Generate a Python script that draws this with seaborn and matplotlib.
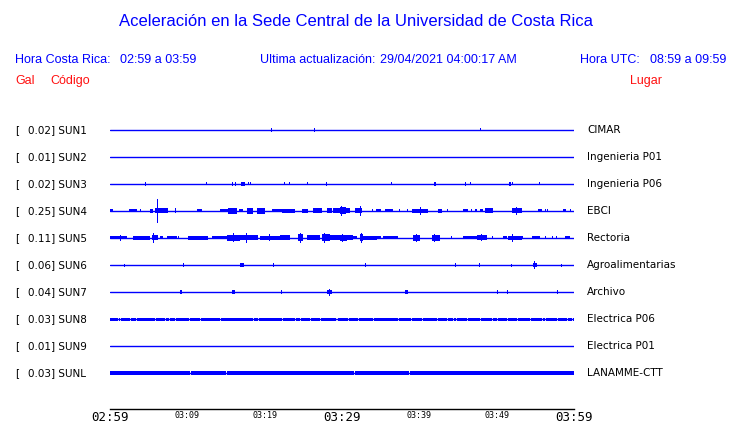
import numpy as np
import pandas as pd

import matplotlib
matplotlib.use('Agg')

import matplotlib.pyplot as plt
import seaborn as sns

# Stations
codes = ["SUN1", "SUN2", "SUN3", "SUN4", "SUN5", "SUN6", "SUN7", "SUN8", "SUN9", "SUNL"]
gals = [0.02, 0.01, 0.02, 0.25, 0.11, 0.06, 0.04, 0.03, 0.01, 0.03]
places = ["CIMAR", "Ingenieria P01", "Ingenieria P06", "EBCI", "Rectoria",
          "Agroalimentarias", "Archivo", "Electrica P06", "Electrica P01", "LANAMME-CTT"]

# Time axis (minutes after 02:59)
tick_minutes = list(range(0, 61, 5))
tick_labels = ["02:59", "", "03:09", "", "03:19", "", "03:29", "", "03:39", "", "03:49", "", "03:59"]
big_labels = ["02:59", "03:29", "03:59"]

# Trace events: (start minute, end minute, half amplitude in px)
sun1_events = [(20.9, 20.9, 2), (26.4, 26.4, 2), (47.9, 47.9, 1.5)]
sun2_events = []
sun3_events = [(4.5, 4.7, 2), (12.5, 12.5, 1.5), (15.9, 15.9, 2), (16.2, 16.2, 2), (16.9, 17.5, 2),
               (17.9, 17.9, 1.5), (18.2, 18.2, 1.5), (22.5, 22.5, 1.5), (23.2, 23.2, 1.5),
               (25.6, 25.6, 1.5), (28.0, 28.0, 2), (36.4, 36.4, 1.5), (41.9, 42.1, 2),
               (46.0, 46.0, 2), (46.6, 46.6, 1.5), (51.6, 51.8, 2), (52.0, 52.0, 1.5), (55.5, 55.5, 1.5)]
sun4_events = [(0, 0.4, 1.5), (2.5, 3.5, 1.5), (3.9, 3.9, 1.5), (5.2, 5.5, 2), (5.8, 7.5, 2.5),
               (6.1, 6.1, 12), (8.5, 8.5, 2.5), (11.2, 11.9, 1.5), (14.2, 15.2, 1.5), (15.2, 16.4, 3),
               (16.7, 17.2, 1.5), (17.7, 18.5, 3), (19.0, 20.0, 3), (21.0, 22.2, 1.5), (22.2, 23.9, 2),
               (24.8, 25.6, 2), (26.3, 27.4, 2.5), (28.0, 28.7, 2.5), (28.9, 31.0, 2.5), (29.7, 30.5, 3.5),
               (29.9, 29.9, 5), (31.7, 32.6, 2.5), (32.4, 32.4, 5), (33.9, 33.9, 1.5), (34.4, 35.0, 1.5),
               (35.6, 36.6, 1.5), (37.4, 37.4, 1.5), (38.5, 38.5, 1.5), (39.0, 41.1, 2),
               (40.2, 40.2, 4), (42.4, 42.9, 2), (43.6, 43.6, 1.5), (45.6, 46.3, 1.5), (46.8, 46.8, 1.5),
               (47.2, 47.5, 1.5), (47.8, 48.2, 1.5), (48.5, 49.5, 2.5), (52.0, 53.3, 2.5), (52.6, 52.6, 4),
               (55.3, 55.9, 1.5), (56.3, 56.3, 1.5), (56.6, 56.6, 1.5), (58.6, 59.0, 1.5), (59.5, 59.5, 1.5)]
sun5_events = [(0, 2.2, 1.5), (1.4, 1.4, 3), (3.0, 5.2, 2), (5.4, 6.2, 2.5), (5.6, 5.6, 5),
               (6.5, 6.9, 1.5), (7.4, 8.7, 1.5), (8.9, 8.9, 1.5), (10.1, 12.7, 2), (13.2, 15.1, 1.5),
               (15.1, 16.8, 3), (16.0, 16.0, 4.5), (16.8, 19.1, 2.5), (17.7, 17.7, 5), (19.4, 22.0, 2),
               (20.6, 20.6, 3.5), (22.0, 23.3, 2.5), (24.3, 25.0, 3.5), (24.6, 24.6, 5), (25.5, 27.2, 2.5),
               (27.4, 28.4, 3.5), (27.8, 27.8, 5), (28.4, 31.4, 2.5), (29.7, 30.6, 3), (30.1, 30.1, 4),
               (30.6, 32.0, 1.5), (32.3, 32.7, 3.5), (32.5, 32.5, 5), (32.7, 34.5, 2), (34.5, 35.1, 1.5),
               (35.3, 37.2, 1.5), (39.2, 40.1, 3), (39.6, 39.6, 4), (41.6, 42.7, 3), (42.0, 42.0, 4),
               (44.2, 44.2, 1.5), (45.6, 47.5, 1.5), (47.5, 48.8, 2.5), (48.1, 48.1, 3.5),
               (49.4, 49.4, 1.5), (50.8, 51.3, 1.5), (51.5, 53.3, 2), (52.0, 52.0, 4), (53.4, 53.4, 1.5),
               (54.6, 55.6, 1.5), (56.3, 56.3, 1.5), (57.2, 57.2, 1.5), (57.8, 57.8, 1.5), (58.8, 59.5, 1.5)]
sun6_events = [(1.85, 1.85, 1.5), (9.4, 9.6, 2), (16.8, 17.3, 2), (21.1, 21.1, 2), (33.0, 33.0, 2),
               (44.7, 44.7, 2), (47.8, 47.8, 2), (51.9, 51.9, 1.5), (54.7, 55.2, 2), (54.9, 54.9, 4),
               (58.4, 58.4, 1.5)]
sun7_events = [(9.1, 9.3, 2), (15.8, 16.2, 2), (22.2, 22.2, 2), (28.1, 28.7, 2), (28.4, 28.4, 3.5),
               (38.2, 38.5, 2), (50.1, 50.1, 2), (51.3, 51.5, 2), (57.9, 57.9, 2)]
sun9_events = []

# Continuous noisy bands (half amplitude in px) and the small gaps in them (minutes)
sun8_band = 1.5
sun8_gaps = [1.0, 1.3, 2.6, 3.4, 5.8, 7.1, 7.6, 8.4, 10.2, 11.6, 14.2, 18.5, 19.1, 22.2, 23.9,
             24.6, 25.9, 27.2, 29.2, 29.4, 30.8, 32.1, 34.0, 37.2, 38.9, 40.3, 42.3, 43.6, 44.4,
             44.8, 46.2, 47.8, 49.4, 50.0, 51.3, 52.6, 54.3, 55.9, 56.3, 57.8, 59.1, 59.7]
sunl_band = 2.0
sunl_gaps = [10.3, 15.0, 31.6, 38.7]

station_events = [sun1_events, sun2_events, sun3_events, sun4_events, sun5_events,
                  sun6_events, sun7_events, [], sun9_events, []]
station_bands = {7: (sun8_band, sun8_gaps), 9: (sunl_band, sunl_gaps)}

BLUE = "#0000ff"
RED = "#ff1010"
W, H = 740, 423
ROW_PX = 27.0
PX_MIN = 60 / 464.0  # one pixel in minutes

sns.set_style("white")
plt.rcParams['font.family'] = ['DejaVu Sans']
plt.rcParams['text.color'] = 'black'
plt.rcParams['xtick.color'] = 'black'

fig = plt.figure(figsize=(W / 100, H / 100), dpi=100)
# axes from x=110..574 px, y=115..409 px
ax = fig.add_axes([110 / W, (H - 409) / H, 464 / W, (409 - 115) / H])
ax.set_xlim(0, 60)
ax.set_ylim((409 - 130) / ROW_PX, (115 - 130) / ROW_PX)

# baselines
base = pd.DataFrame({
    "minute": [0, 60] * len(codes),
    "row": np.repeat(np.arange(len(codes)), 2),
    "code": np.repeat(codes, 2),
})
sns.lineplot(data=base, x="minute", y="row", units="code", estimator=None,
             color=BLUE, linewidth=1.0, ax=ax, legend=False)

# bursts and spikes
for i, events in enumerate(station_events):
    for t0, t1, amp in events:
        width = max(t1 - t0, PX_MIN)
        start = t0 if t1 > t0 else t0 - PX_MIN / 2
        ax.bar(start, 2 * amp / ROW_PX, width=width, bottom=i - amp / ROW_PX,
               align='edge', color=BLUE, linewidth=0)

# continuous bands
for i, (amp, gaps) in station_bands.items():
    edges = [0] + gaps + [60]
    for a, b in zip(edges[:-1], edges[1:]):
        a0 = a + (PX_MIN if a > 0 else 0)
        ax.bar(a0, 2 * amp / ROW_PX, width=b - a0, bottom=i - amp / ROW_PX,
               align='edge', color=BLUE, linewidth=0)

# axis styling
for s in ["top", "left", "right"]:
    ax.spines[s].set_visible(False)
ax.spines["bottom"].set_color("black")
ax.spines["bottom"].set_linewidth(1.0)
ax.set_yticks([])
ax.set_xticks(tick_minutes)
ax.set_xticklabels(tick_labels)
ax.tick_params(axis='x', direction='in', length=7, width=0.8, color='black', pad=1.5)
for lab in ax.get_xticklabels():
    lab.set_family('DejaVu Sans Mono')
    lab.set_fontsize(9 if lab.get_text() in big_labels else 6)
    lab.set_verticalalignment('top')
ax.set_xlabel("")
ax.set_ylabel("")


def px(x, y):
    return x / W, 1 - y / H


# station labels
for i, (code, gal, place) in enumerate(zip(codes, gals, places)):
    y = 130 + ROW_PX * i
    fig.text(*px(15, y), "[", fontsize=7.5, va='center', ha='left')
    fig.text(*px(28, y), f"{gal:.2f}] {code}", fontsize=7.5, va='center', ha='left')
    fig.text(*px(587, y), place, fontsize=7.5, va='center', ha='left')

# header
hdr = dict(family='Liberation Sans', fontsize=9, va='center', ha='left')
fig.text(*px(356, 22), "Aceleración en la Sede Central de la Universidad de Costa Rica",
         family='Liberation Sans', fontsize=12, color=BLUE, ha='center', va='center')
fig.text(*px(15, 60), "Hora Costa Rica:", color=BLUE, **hdr)
fig.text(*px(120, 60), "02:59 a 03:59", color=BLUE, **hdr)
fig.text(*px(260, 60), "Ultima actualización:", color=BLUE, **hdr)
fig.text(*px(380, 60), "29/04/2021 04:00:17 AM", color=BLUE, **hdr)
fig.text(*px(580, 60), "Hora UTC:", color=BLUE, **hdr)
fig.text(*px(650, 60), "08:59 a 09:59", color=BLUE, **hdr)
fig.text(*px(15, 81), "Gal", color=RED, **hdr)
fig.text(*px(50, 81), "Código", color=RED, **hdr)
fig.text(*px(630, 81), "Lugar", color=RED, **hdr)

fig.savefig("out.png", dpi=100)
plt.close(fig)
